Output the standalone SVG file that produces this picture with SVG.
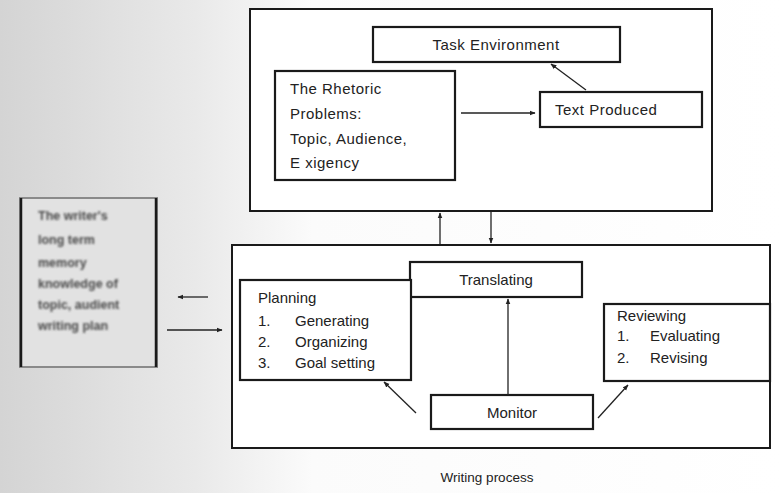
<svg xmlns="http://www.w3.org/2000/svg" width="781" height="493" viewBox="0 0 781 493">
<defs>
<linearGradient id="bg" x1="0" y1="0" x2="1" y2="0">
<stop offset="0" stop-color="#d4d4d4"/>
<stop offset="0.25" stop-color="#e9e9e9"/>
<stop offset="0.4" stop-color="#fbfbfb"/>
<stop offset="1" stop-color="#ffffff"/>
</linearGradient>
<marker id="ah" viewBox="0 0 10 10" refX="9" refY="5" markerWidth="6" markerHeight="6" orient="auto-start-reverse" markerUnits="userSpaceOnUse">
<path d="M0,1 L10,5 L0,9 z" fill="#222"/>
</marker>
<filter id="blur" x="-10%" y="-10%" width="120%" height="120%">
<feGaussianBlur stdDeviation="0.8"/>
</filter>
</defs>
<style>
.box{fill:#fff;stroke:#1a1a1a;stroke-width:2.2}
.outer{fill:#fff;stroke:#1a1a1a;stroke-width:2}
.t{font-family:"Liberation Sans",Arial,sans-serif;font-size:15px;fill:#222}
.tn{font-family:"Liberation Sans",Arial,sans-serif;font-size:15px;letter-spacing:0.5px;fill:#222}
.c{text-anchor:middle}
.conn{stroke:#222;stroke-width:1.3;fill:none}
.lt{font-family:"Liberation Sans",Arial,sans-serif;font-size:12.5px;font-weight:bold;fill:#4a4a4a}
</style>
<rect x="0" y="0" width="781" height="493" fill="url(#bg)"/>

<g id="task-system">
<rect class="outer" x="250" y="9" width="462" height="202"/>
</g>
<g id="task-environment">
<rect class="box" x="373" y="27" width="247" height="35"/>
<text class="tn c" x="496" y="50">Task  Environment</text>
</g>
<g id="rhetoric">
<rect class="box" x="275" y="71" width="180" height="109"/>
<text class="tn" x="290" y="94">The Rhetoric</text>
<text class="tn" x="290" y="119">Problems:</text>
<text class="tn" x="290" y="144">Topic,  Audience,</text>
<text class="tn" x="290" y="168">E xigency</text>
</g>
<g id="text-produced">
<rect class="box" x="540" y="92" width="162" height="35"/>
<text class="tn" x="555" y="115">Text  Produced</text>
</g>

<g id="writing-process">
<rect class="outer" x="232" y="245" width="538" height="203"/>
</g>
<g id="translating">
<rect class="box" x="410" y="262" width="172" height="35"/>
<text class="t c" x="496" y="285">Translating</text>
</g>
<g id="planning">
<rect class="box" x="240" y="280" width="171" height="100"/>
<text class="t" x="258" y="303">Planning</text>
<text class="t" x="258" y="326">1.</text><text class="t" x="295" y="326">Generating</text>
<text class="t" x="258" y="347">2.</text><text class="t" x="295" y="347">Organizing</text>
<text class="t" x="258" y="368">3.</text><text class="t" x="295" y="368">Goal setting</text>
</g>
<g id="reviewing">
<rect class="box" x="604" y="304" width="166" height="77"/>
<text class="t" x="617" y="321">Reviewing</text>
<text class="t" x="617" y="341">1.</text><text class="t" x="650" y="341">Evaluating</text>
<text class="t" x="617" y="363">2.</text><text class="t" x="650" y="363">Revising</text>
</g>
<g id="monitor">
<rect class="box" x="431" y="395" width="162" height="34"/>
<text class="t c" x="512" y="418">Monitor</text>
</g>

<g id="long-term-memory">
<rect x="20" y="198" width="137" height="169" fill="#e2e2e2" stroke="#8a8a8a" stroke-width="2"/>
<line x1="21" y1="198" x2="21" y2="367" stroke="#1a1a1a" stroke-width="2.5"/>
<line x1="156" y1="198" x2="156" y2="367" stroke="#1a1a1a" stroke-width="2.5"/>
<g filter="url(#blur)">
<text class="lt" x="38" y="220">The writer's</text>
<text class="lt" x="38" y="244">long term</text>
<text class="lt" x="38" y="267">memory</text>
<text class="lt" x="38" y="288">knowledge of</text>
<text class="lt" x="38" y="309">topic, audient</text>
<text class="lt" x="38" y="330">writing plan</text>
</g>
</g>

<g id="connectors">
<line class="conn" x1="461" y1="113" x2="535" y2="113" marker-end="url(#ah)"/>
<line class="conn" x1="586" y1="90" x2="551" y2="64" marker-end="url(#ah)"/>
<line class="conn" x1="440" y1="244" x2="440" y2="213" marker-end="url(#ah)"/>
<line class="conn" x1="491" y1="212" x2="491" y2="243" marker-end="url(#ah)"/>
<line class="conn" x1="508" y1="395" x2="508" y2="299" marker-end="url(#ah)"/>
<line class="conn" x1="416" y1="413" x2="384" y2="382" marker-end="url(#ah)"/>
<line class="conn" x1="598" y1="418" x2="628" y2="385" marker-end="url(#ah)"/>
<line class="conn" x1="208" y1="297" x2="178" y2="297" marker-end="url(#ah)" stroke-width="2"/>
<line class="conn" x1="167" y1="330" x2="222" y2="330" marker-end="url(#ah)"/>
</g>

<text class="t c" x="487" y="482" style="font-size:13.5px">Writing process</text>
</svg>
